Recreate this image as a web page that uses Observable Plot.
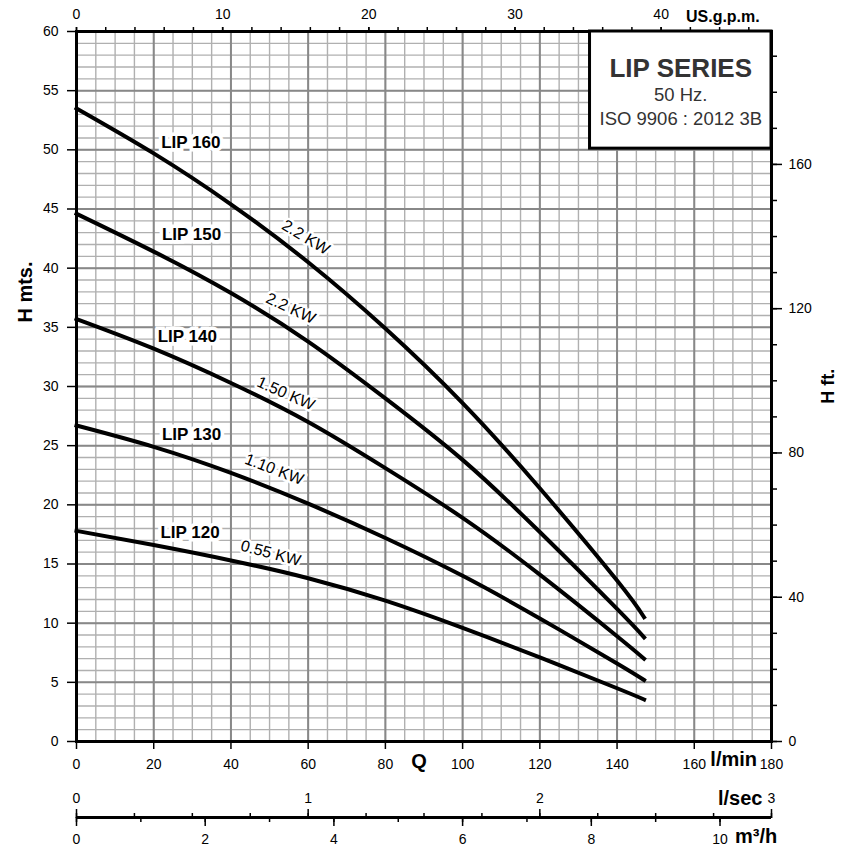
<!DOCTYPE html>
<html><head><meta charset="utf-8">
<script src="https://cdn.jsdelivr.net/npm/d3@7"></script>
<script src="https://cdn.jsdelivr.net/npm/@observablehq/plot@0.6"></script>
<style>body{margin:0;background:#fff} svg{display:block}</style>
</head><body><div id="chart"></div>
<script>
// ---- data ----
const flow = [0, 20, 40, 60, 80, 100, 120, 140, 147];           // l/min
const models = ["LIP 160", "LIP 150", "LIP 140", "LIP 130", "LIP 120"];
const powers = ["2.2 KW", "2.2 KW", "1.50 KW", "1.10 KW", "0.55 KW"];
const headLIP160 = [53.5, 49.7, 45.4, 40.5, 34.9, 28.6, 21.4, 13.6, 10.5];
const headLIP150 = [44.6, 41.4, 37.9, 33.8, 29.0, 23.8, 17.7, 11.2, 8.8];
const headLIP140 = [35.7, 33.2, 30.3, 27.0, 23.1, 18.9, 14.1, 8.9, 7.0];
const headLIP130 = [26.7, 24.9, 22.7, 20.1, 17.2, 14.0, 10.4, 6.6, 5.2];
const headLIP120 = [17.8, 16.6, 15.3, 13.8, 11.9, 9.6, 7.1, 4.5, 3.55];
const heads = [headLIP160, headLIP150, headLIP140, headLIP130, headLIP120];

// tick labels
const lpmTicks = [0, 20, 40, 60, 80, 100, 120, 140, 160, 180];
const headTicks = [0, 5, 10, 15, 20, 25, 30, 35, 40, 45, 50, 55, 60];
const gpmTicks = [0, 10, 20, 30, 40];
const ftTicks = [0, 40, 80, 120, 160];
const lsecTicks = [0, 1, 2, 3];
const m3hTicks = [0, 2, 4, 6, 8, 10];
const titleLines = ["LIP SERIES", "50 Hz.", "ISO 9906 : 2012 3B"];

// ---- conversions ----
const L_PER_GAL = 3.78541, M_PER_FT = 0.3048, LPM_PER_LS = 60, LPM_PER_M3H = 1000 / 60;

// ---- annotation placement (not data) ----
const modelLabelPos = [[29.6, 50.65], [29.8, 42.8], [28.7, 34.2], [29.8, 25.9], [29.4, 17.7]];
const powerLabelPos = [[59.4, 42.6, 31], [55.5, 36.6, 25], [54.2, 29.4, 24], [51.2, 23.0, 21], [50.3, 15.9, 15]];

const rows = models.flatMap((m, i) => flow.map((q, j) => ({model: m, q, h: heads[i][j]})));
const modelLabels = models.map((m, i) => ({text: m, x: modelLabelPos[i][0], y: modelLabelPos[i][1]}));
const powerLabels = powers.map((p, i) => ({text: p, x: powerLabelPos[i][0], y: powerLabelPos[i][1], a: powerLabelPos[i][2]}));

const minorX = d3.range(0, 181, 5);
const majorX = d3.range(0, 181, 20);
const minorY = d3.range(0, 61, 1);
const majorY = d3.range(0, 61, 5);

const gpmMinor = d3.range(0, 47, 2).map(g => g * L_PER_GAL);
const ftMinor = d3.range(0, 197, 10).map(f => f * M_PER_FT);
const lsMinor = d3.range(0, 3.01, 0.25).map(v => v * LPM_PER_LS);
const m3hMinor = d3.range(0, 11, 1).map(v => v * LPM_PER_M3H);

const font = "'Liberation Sans', Arial, sans-serif";
const LSEC_DY = 817 - 741;
const FS = 14;

const chart = Plot.plot({
  width: 849, height: 847,
  marginLeft: 76, marginRight: 78, marginTop: 31, marginBottom: 106,
  x: {domain: [0, 180]},
  y: {domain: [0, 60]},
  style: {fontFamily: font, fontSize: "14px", background: "white", color: "black"},
  marks: [
    Plot.ruleX(minorX, {stroke: "#b0b0b0", strokeWidth: 1.4}),
    Plot.ruleY(minorY, {stroke: "#b0b0b0", strokeWidth: 1.4}),
    Plot.ruleX(majorX, {stroke: "#888", strokeWidth: 2}),
    Plot.ruleY(majorY, {stroke: "#888", strokeWidth: 2}),
    Plot.line(rows, {x: "q", y: "h", z: "model", stroke: "black", strokeWidth: 4, curve: "natural", strokeLinecap: "square"}),
    Plot.text(modelLabels, {x: "x", y: "y", text: "text", fontWeight: "bold", fontSize: 17, fill: "black", stroke: "white", strokeWidth: 7, strokeLinejoin: "miter"}),
    Plot.text(powerLabels, {x: "x", y: "y", text: "text", rotate: "a", fontSize: 16, fill: "black", stroke: "white", strokeWidth: 5}),
    Plot.frame({stroke: "black", strokeWidth: 3}),
    // title box
    Plot.rect([titleLines], {x1: 133.0, x2: 180, y1: 50.1, y2: 60, fill: "white", stroke: "black", strokeWidth: 3}),
    Plot.text([titleLines[0]], {x: 156.5, y: 56.9, fontWeight: "bold", fontSize: 26, fill: "#333"}),
    Plot.text([titleLines[1]], {x: 156.5, y: 54.6, fontSize: 18.5, fill: "#333"}),
    Plot.text([titleLines[2]], {x: 156.5, y: 52.6, fontSize: 18.5, fill: "#333"}),
    // left axis
    Plot.axisY(headTicks, {anchor: "left", tickSize: 9, tickPadding: 9, fontSize: FS, label: null, strokeWidth: 1.5}),
    // bottom axis l/min
    Plot.axisX(lpmTicks, {anchor: "bottom", tickSize: 8, tickPadding: 10, fontSize: FS, label: null, strokeWidth: 1.5}),
    // top axis gpm
    Plot.axisX(gpmMinor, {anchor: "top", tickSize: 5, fill: "none", label: null, strokeWidth: 1.5}),
    Plot.axisX(gpmTicks.map(g => g * L_PER_GAL), {anchor: "top", tickSize: 5, tickPadding: 8, fontSize: FS, label: null, strokeWidth: 1.5, tickFormat: d => Math.round(d / L_PER_GAL)}),
    // right axis ft
    Plot.axisY(ftMinor, {anchor: "right", tickSize: 5, fill: "none", label: null, strokeWidth: 1.5}),
    Plot.axisY(ftTicks.map(f => f * M_PER_FT), {anchor: "right", tickSize: 10, tickPadding: 7, fontSize: FS, label: null, strokeWidth: 1.5, tickFormat: d => Math.round(d / M_PER_FT)}),
    // l/sec & m3/h axis line
    Plot.ruleY([0], {dy: LSEC_DY, stroke: "black", strokeWidth: 3}),
    Plot.axisX(lsMinor, {anchor: "top", dy: 786, tickSize: 5, fill: "none", label: null, strokeWidth: 1.5}),
    Plot.axisX(lsecTicks.map(v => v * LPM_PER_LS), {anchor: "top", dy: 786, tickSize: 9, tickPadding: 6, fontSize: FS, label: null, strokeWidth: 1.5, tickFormat: d => Math.round(d / LPM_PER_LS)}),
    Plot.axisX(m3hMinor, {anchor: "bottom", dy: LSEC_DY, tickSize: 5, fill: "none", label: null, strokeWidth: 1.5}),
    Plot.axisX(m3hTicks.map(v => v * LPM_PER_M3H), {anchor: "bottom", dy: LSEC_DY, tickSize: 9, tickPadding: 8, fontSize: FS, label: null, strokeWidth: 1.5, tickFormat: d => Math.round(d / LPM_PER_M3H)}),
    // unit labels
    Plot.text(["US.g.p.m."], {x: 167.4, frameAnchor: "top", dy: -21, fontWeight: "bold", fontSize: 16}),
    Plot.text(["Q"], {x: 88.7, frameAnchor: "bottom", dy: 26, fontWeight: "bold", fontSize: 20}),
    Plot.text(["l/min"], {x: 170.2, frameAnchor: "bottom", dy: 24, fontWeight: "bold", fontSize: 20}),
    Plot.text(["l/sec"], {x: 171.9, frameAnchor: "bottom", dy: 63, fontWeight: "bold", fontSize: 20}),
    Plot.text(["m³/h"], {x: 176, frameAnchor: "bottom", dy: 101, fontWeight: "bold", fontSize: 20}),
    Plot.text(["H mts."], {y: 35.4, frameAnchor: "left", dx: -51, rotate: -90, fontWeight: "bold", fontSize: 20}),
    Plot.text(["H ft."], {y: 31.5, frameAnchor: "right", dx: 57, rotate: -90, fontWeight: "bold", fontSize: 18})
  ]
});
document.getElementById("chart").appendChild(chart);
</script></body></html>
